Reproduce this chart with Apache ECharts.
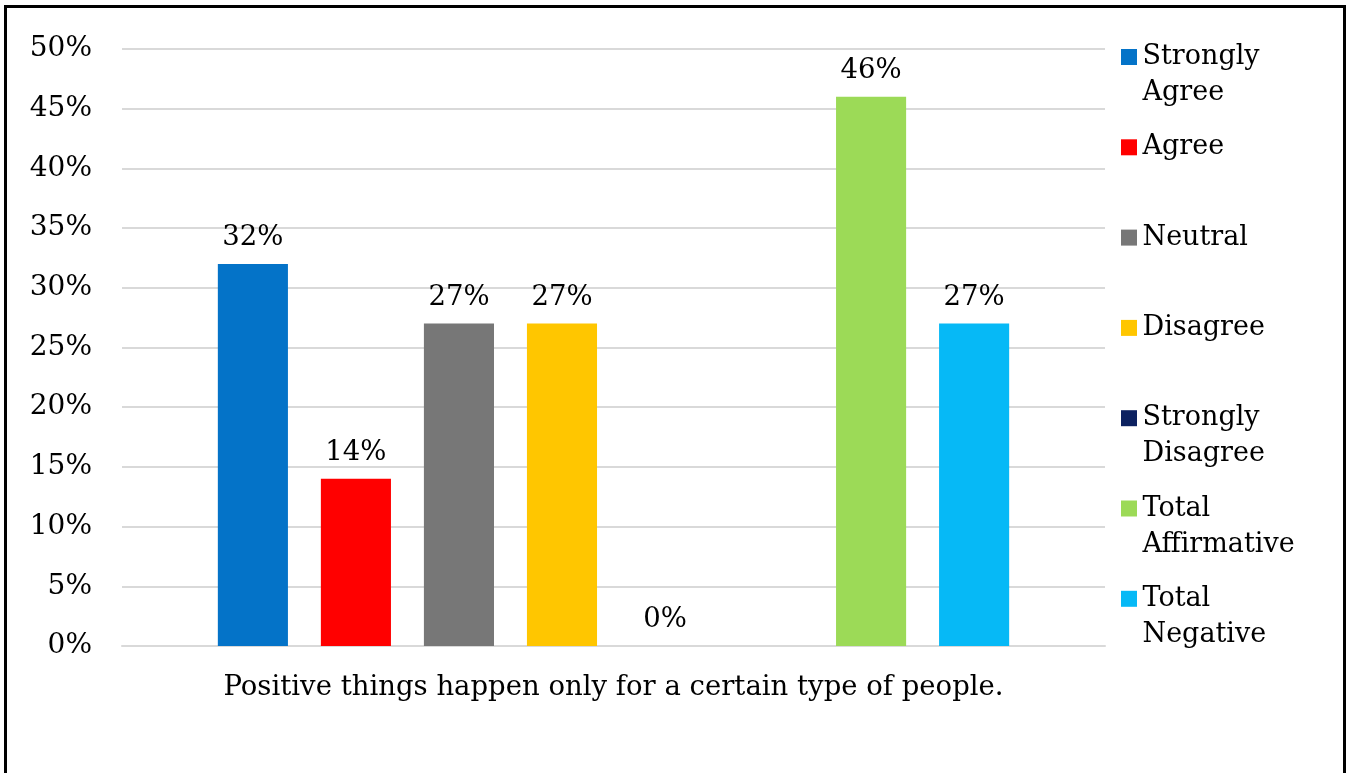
<!DOCTYPE html>
<html>
<head>
<meta charset="utf-8">
<script src="https://cdn.jsdelivr.net/npm/echarts@6/dist/echarts.min.js"></script>
<style>
html,body{margin:0;padding:0;background:#fff;}
#chart{width:1347px;height:773px;}
</style>
</head>
<body>
<div id="chart"></div>
<script>
const categories = ['Positive things happen only for a certain type of people.'];
const seriesNames = ['Strongly Agree', 'Agree', 'Neutral', 'Disagree', 'Strongly Disagree', '', 'Total Affirmative', 'Total Negative'];
const legendLabels = ['Strongly\nAgree', 'Agree\n ', 'Neutral\n ', 'Disagree\n ', 'Strongly\nDisagree', '', 'Total\nAffirmative', 'Total\nNegative'];
const seriesValues = [[32], [14], [27], [27], [0], [null], [46], [27]];
const seriesColors = ['#0473C8', '#FF0000', '#777777', '#FFC600', '#0C2160', '#FFFFFF', '#9CDA57', '#06B9F6'];
const yTicks = { min: 0, max: 50, interval: 5 };

const FONT = 'DejaVu Serif';
const chart = echarts.init(document.getElementById('chart'));

const labelMap = {};
seriesNames.forEach((n, i) => { labelMap[n] = legendLabels[i]; });

const series = seriesNames.map((name, i) => ({
  name: name,
  type: 'bar',
  data: seriesValues[i],
  itemStyle: { color: seriesColors[i] },
  barGap: '47%',
  barCategoryGap: '19.5%',
  label: {
    show: seriesValues[i][0] !== null,
    position: 'top',
    distance: 12,
    formatter: '{c}%',
    color: '#000',
    fontFamily: FONT,
    fontSize: 27.5
  }
}));

chart.setOption({
  animation: false,
  backgroundColor: '#fff',
  graphic: [{
    type: 'rect',
    shape: { x: 5.5, y: 6.5, width: 1339, height: 800 },
    style: { fill: 'none', stroke: '#000', lineWidth: 3 },
    silent: true
  }],
  grid: { left: 122, right: 242, top: 49, bottom: 127 },
  legend: {
    orient: 'vertical',
    left: 1121,
    top: 39,
    padding: 0,
    itemGap: 18.3,
    itemWidth: 17,
    itemHeight: 72,
    icon: 'path://M0,10H16V26H0Z M0,0 M16,72',
    data: seriesNames.filter(n => n !== ''),
    formatter: name => labelMap[name],
    textStyle: { fontFamily: FONT, fontSize: 27, lineHeight: 36, color: '#000' }
  },
  xAxis: {
    type: 'category',
    data: categories,
    axisTick: { show: false },
    axisLine: { lineStyle: { color: '#D9D9D9', width: 2 } },
    axisLabel: { color: '#000', fontFamily: FONT, fontSize: 27.5, lineHeight: 30, margin: 27 }
  },
  yAxis: {
    type: 'value',
    min: yTicks.min,
    max: yTicks.max,
    interval: yTicks.interval,
    axisLine: { show: false },
    axisTick: { show: false },
    splitLine: { lineStyle: { color: '#D9D9D9', width: 2 } },
    axisLabel: { formatter: '{value}%', color: '#000', fontFamily: FONT, fontSize: 28, margin: 30 }
  },
  series: series
});
</script>
</body>
</html>
